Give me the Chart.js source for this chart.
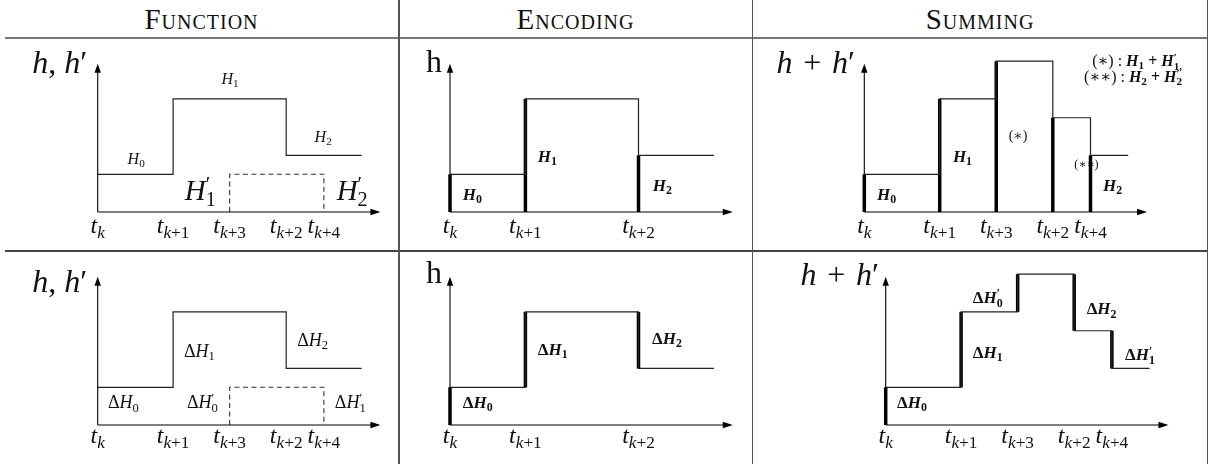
<!DOCTYPE html>
<html><head><meta charset="utf-8">
<script src="https://cdn.jsdelivr.net/npm/chart.js@4.4.1/dist/chart.umd.min.js"></script>
<style>
html,body{margin:0;padding:0;background:#fff;}
#wrap{position:relative;width:1209px;height:464px;overflow:hidden;background:#fff;}
canvas{position:absolute;left:0;top:0;}
.hd{position:absolute;top:0;height:38px;line-height:38px;text-align:center;font-family:"Liberation Serif",serif;font-variant:small-caps;font-size:29px;letter-spacing:1px;color:#111;}
.hl{position:absolute;background:#666;}
</style></head><body>
<div id="wrap">
  <div class="hd" style="left:5px;width:393px">Function</div>
  <div class="hd" style="left:399px;width:353px">Encoding</div>
  <div class="hd" style="left:753px;width:454px">Summing</div>
  <div class="hl" style="left:5px;top:37px;width:1202px;height:2px;background:#777"></div>
  <div class="hl" style="left:5px;top:250px;width:1202px;height:1.5px;background:#444"></div>
  <div class="hl" style="left:398px;top:0;width:1.5px;height:464px;background:#555"></div>
  <div class="hl" style="left:751.5px;top:0;width:1.5px;height:464px;background:#555"></div>
  <div class="hl" style="left:1206.5px;top:0;width:1.5px;height:464px;background:#555"></div>
  <canvas id="c1" width="1209" height="464"></canvas>
  <canvas id="c2" width="1209" height="464"></canvas>
  <canvas id="c3" width="1209" height="464"></canvas>
  <canvas id="c4" width="1209" height="464"></canvas>
  <canvas id="c5" width="1209" height="464"></canvas>
  <canvas id="c6" width="1209" height="464"></canvas>
</div>
<script>
// ---------- data ----------
const tPos = [0, 2, 3.5, 5, 6];                 // t_k, t_{k+1}, t_{k+3}, t_{k+2}, t_{k+4}
const tSub = ['k', 'k+1', 'k+3', 'k+2', 'k+4'];
const encPos = [0, 2, 5];
const encSub = ['k', 'k+1', 'k+2'];
const hEdges = [0, 2, 5];
const hLevels = [1, 3, 1.5];
const hEnd = 7;
const hpEdges = [3.5, 6];
const hpLevel = 1;
const sumEdges = [0, 2, 3.5, 5, 6];
const sumLevels = [1, 3, 4, 2.5, 1.5];
const xMax = 7, yMax = 4, xArrow = 7.5, yArrow = 3.93;

// ---------- layout ----------
const U = 37.7, W = 1209, HH = 464;
const FONT = '"Liberation Serif", "DejaVu Serif", serif';

// ---------- math text helpers ----------
const r = (t, b) => ({t, it: false, b: !!b, lv: 0});
const i = (t, b) => ({t, it: true, b: !!b, lv: 0});
const sub = (t, b, it) => ({t, it: !!it, b: !!b, lv: 1});
const ss = (s, p, b) => ({t: [s, p], it: false, b: !!b, lv: 3});
function fontOf(tok, sz) { return (tok.it ? 'italic ' : '') + (tok.b ? 'bold ' : '') + sz + 'px ' + FONT; }
function drawMath(ctx, toks, x, y, sz, align, ratio) {
  const s2 = sz * (ratio || 0.7);
  let w = 0;
  const items = toks.map(tok => {
    let width;
    if (tok.lv === 0) { ctx.font = fontOf(tok, sz); width = ctx.measureText(tok.t).width; }
    else if (tok.lv === 3) { ctx.font = fontOf(tok, s2); width = Math.max(ctx.measureText(tok.t[0]).width, ctx.measureText(tok.t[1]).width); }
    else { ctx.font = fontOf(tok, s2); width = ctx.measureText(tok.t).width; }
    const o = {tok, dx: w}; w += width; return o;
  });
  const x0 = align === 'center' ? x - w / 2 : align === 'right' ? x - w : x;
  ctx.save();
  ctx.fillStyle = '#111'; ctx.textAlign = 'left'; ctx.textBaseline = 'alphabetic';
  items.forEach(({tok, dx}) => {
    const X = x0 + dx;
    if (tok.lv === 0) { ctx.font = fontOf(tok, sz); ctx.fillText(tok.t, X, y); }
    else if (tok.lv === 1) { ctx.font = fontOf(tok, s2); ctx.fillText(tok.t, X, y + sz * 0.2); }
    else { ctx.font = fontOf(tok, s2); ctx.fillText(tok.t[0], X, y + sz * 0.22); ctx.fillText(tok.t[1], X, y - sz * 0.32); }
  });
  ctx.restore();
}
function tickToks(s) { return [i('t'), sub(s[0], false, true), sub(s.slice(1))]; }

// ---------- dataset builders ----------
function stepSet(edges, levels) {
  const pts = edges.map((x, k) => ({x, y: levels[k]}));
  pts.push({x: hEnd, y: levels[levels.length - 1]});
  return {data: pts, stepped: true, borderColor: '#222', borderWidth: 1.2, pointRadius: 0, fill: false, clip: false};
}
function dashSet() {
  return {data: [{x: hpEdges[0], y: 0}, {x: hpEdges[0], y: hpLevel}, {x: hpEdges[1], y: hpLevel}, {x: hpEdges[1], y: 0}],
    borderColor: '#333', borderWidth: 1.1, borderDash: [5, 3.5], pointRadius: 0, fill: false, clip: false};
}
function barSets(edges, levels, delta) {
  return edges.map((x, k) => ({
    data: [{x, y: delta ? (k ? levels[k - 1] : 0) : 0}, {x, y: levels[k]}],
    borderColor: '#000', borderWidth: 3.5, borderCapStyle: 'butt', pointRadius: 0, fill: false, clip: false
  }));
}

// ---------- panel ----------
function panel(id, x0, y0, datasets, labels, ticks, tickOff) {
  const plug = {
    id: 'deco' + id,
    beforeDatasetsDraw(chart) {
      const {ctx, scales: {x, y}} = chart;
      labels.forEach(L => drawMath(ctx, L.toks, x.getPixelForValue(L.x), y.getPixelForValue(L.y), L.sz, L.al || 'left'));
    },
    afterDatasetsDraw(chart) {
      const {ctx, scales: {x, y}} = chart;
      const px0 = x.getPixelForValue(0), py0 = y.getPixelForValue(0);
      const pyT = y.getPixelForValue(yArrow), pxE = x.getPixelForValue(xArrow);
      ctx.save();
      ctx.strokeStyle = '#000'; ctx.lineWidth = 1.1; ctx.fillStyle = '#000';
      ctx.beginPath(); ctx.moveTo(px0, py0); ctx.lineTo(px0, pyT + 6); ctx.moveTo(px0, py0); ctx.lineTo(pxE - 6, py0); ctx.stroke();
      ctx.beginPath(); ctx.moveTo(px0, pyT); ctx.lineTo(px0 - 3.2, pyT + 9); ctx.lineTo(px0 + 3.2, pyT + 9); ctx.closePath(); ctx.fill();
      ctx.beginPath(); ctx.moveTo(pxE, py0); ctx.lineTo(pxE - 10, py0 - 3.2); ctx.lineTo(pxE - 10, py0 + 3.2); ctx.closePath(); ctx.fill();
      ctx.restore();
      ticks.pos.forEach((p, k) => drawMath(ctx, tickToks(ticks.sub[k]), x.getPixelForValue(p), py0 + tickOff, 24, 'center', 0.72));
    }
  };
  new Chart(document.getElementById(id), {
    type: 'line',
    data: {datasets},
    options: {
      responsive: false, animation: false, events: [],
      layout: {padding: {left: x0, right: W - (x0 + xMax * U), top: y0 - yMax * U, bottom: HH - y0}},
      scales: {
        x: {type: 'linear', min: 0, max: xMax, display: false},
        y: {type: 'linear', min: 0, max: yMax, display: false}
      },
      plugins: {legend: {display: false}, tooltip: {enabled: false}, title: {display: false}}
    },
    plugins: [plug]
  });
}

const T1 = {pos: tPos, sub: tSub}, T2 = {pos: encPos, sub: encSub};
const hTitle = [i('h'), r(', '), i('h'), r('′')];
const sTitle = [i('h'), r(' \u200A+ \u200A'), i('h'), r('′')];
const TS = 32;

// Row 1
panel('c1', 97.7, 212, [stepSet(hEdges, hLevels), dashSet()], [
  {toks: [i('H'), sub('0')], x: 1.02, y: 1.27, sz: 16, al: 'center'},
  {toks: [i('H'), sub('1')], x: 3.51, y: 3.40, sz: 16, al: 'center'},
  {toks: [i('H'), sub('2')], x: 5.98, y: 1.86, sz: 16, al: 'center'},
  {toks: [i('H'), ss('1', '′')], x: 2.72, y: 0.32, sz: 29, al: 'center'},
  {toks: [i('H'), ss('2', '′')], x: 6.75, y: 0.32, sz: 29, al: 'center'},
  {toks: hTitle, x: -0.28, y: 3.69, sz: TS, al: 'right'}
], T1, 21);

panel('c2', 450, 212, [stepSet(hEdges, hLevels), ...barSets(hEdges, hLevels, false)], [
  {toks: [i('H', 1), sub('0', 1)], x: 0.34, y: 0.32, sz: 17},
  {toks: [i('H', 1), sub('1', 1)], x: 2.33, y: 1.33, sz: 17},
  {toks: [i('H', 1), sub('2', 1)], x: 5.38, y: 0.56, sz: 17},
  {toks: [r('h')], x: -0.21, y: 3.71, sz: TS, al: 'right'}
], T2, 21);

panel('c3', 864.3, 212, [stepSet(sumEdges, sumLevels), ...barSets(sumEdges, sumLevels, false)], [
  {toks: [i('H', 1), sub('0', 1)], x: 0.34, y: 0.32, sz: 17},
  {toks: [i('H', 1), sub('1', 1)], x: 2.35, y: 1.33, sz: 17},
  {toks: [i('H', 1), sub('2', 1)], x: 6.33, y: 0.56, sz: 17},
  {toks: [r('(∗)')], x: 4.08, y: 1.91, sz: 14, al: 'center'},
  {toks: [r('(∗∗)')], x: 5.57, y: 1.17, sz: 12},
  {toks: [r('(∗) : '), i('H', 1), sub('1', 1), r(' + ', 1), i('H', 1), ss('1,', '′', 1)], x: 8.43, y: 3.87, sz: 16, al: 'right'},
  {toks: [r('(∗∗) : '), i('H', 1), sub('2', 1), r(' + ', 1), i('H', 1), ss('2', '′', 1)], x: 8.43, y: 3.45, sz: 16, al: 'right'},
  {toks: sTitle, x: -0.25, y: 3.69, sz: TS, al: 'right'}
], T1, 21);

// Row 2
panel('c4', 97.7, 425, [stepSet(hEdges, hLevels), dashSet()], [
  {toks: [r('Δ'), i('H'), sub('0')], x: 0.27, y: 0.45, sz: 18},
  {toks: [r('Δ'), i('H'), sub('1')], x: 2.29, y: 1.81, sz: 18},
  {toks: [r('Δ'), i('H'), sub('2')], x: 5.29, y: 2.10, sz: 18},
  {toks: [r('Δ'), i('H'), ss('0', '′')], x: 2.37, y: 0.45, sz: 18},
  {toks: [r('Δ'), i('H'), ss('1', '′')], x: 6.29, y: 0.45, sz: 18},
  {toks: hTitle, x: -0.28, y: 3.54, sz: TS, al: 'right'}
], T1, 18);

panel('c5', 450, 425, [stepSet(hEdges, hLevels), ...barSets(hEdges, hLevels, true)], [
  {toks: [r('Δ', 1), i('H', 1), sub('0', 1)], x: 0.34, y: 0.45, sz: 17},
  {toks: [r('Δ', 1), i('H', 1), sub('1', 1)], x: 2.33, y: 1.86, sz: 17},
  {toks: [r('Δ', 1), i('H', 1), sub('2', 1)], x: 5.36, y: 2.15, sz: 17},
  {toks: [r('h')], x: -0.21, y: 3.76, sz: TS, al: 'right'}
], T2, 18);

panel('c6', 885.7, 425, [stepSet(sumEdges, sumLevels), ...barSets(sumEdges, sumLevels, true)], [
  {toks: [r('Δ', 1), i('H', 1), sub('0', 1)], x: 0.30, y: 0.45, sz: 17},
  {toks: [r('Δ', 1), i('H', 1), sub('1', 1)], x: 2.31, y: 1.78, sz: 17},
  {toks: [r('Δ', 1), i('H', 1), ss('0', '′', 1)], x: 2.31, y: 3.24, sz: 17},
  {toks: [r('Δ', 1), i('H', 1), sub('2', 1)], x: 5.33, y: 2.94, sz: 17},
  {toks: [r('Δ', 1), i('H', 1), ss('1', '′', 1)], x: 6.35, y: 1.72, sz: 17},
  {toks: sTitle, x: -0.18, y: 3.71, sz: TS, al: 'right'}
], T1, 18);
</script>
</body></html>
